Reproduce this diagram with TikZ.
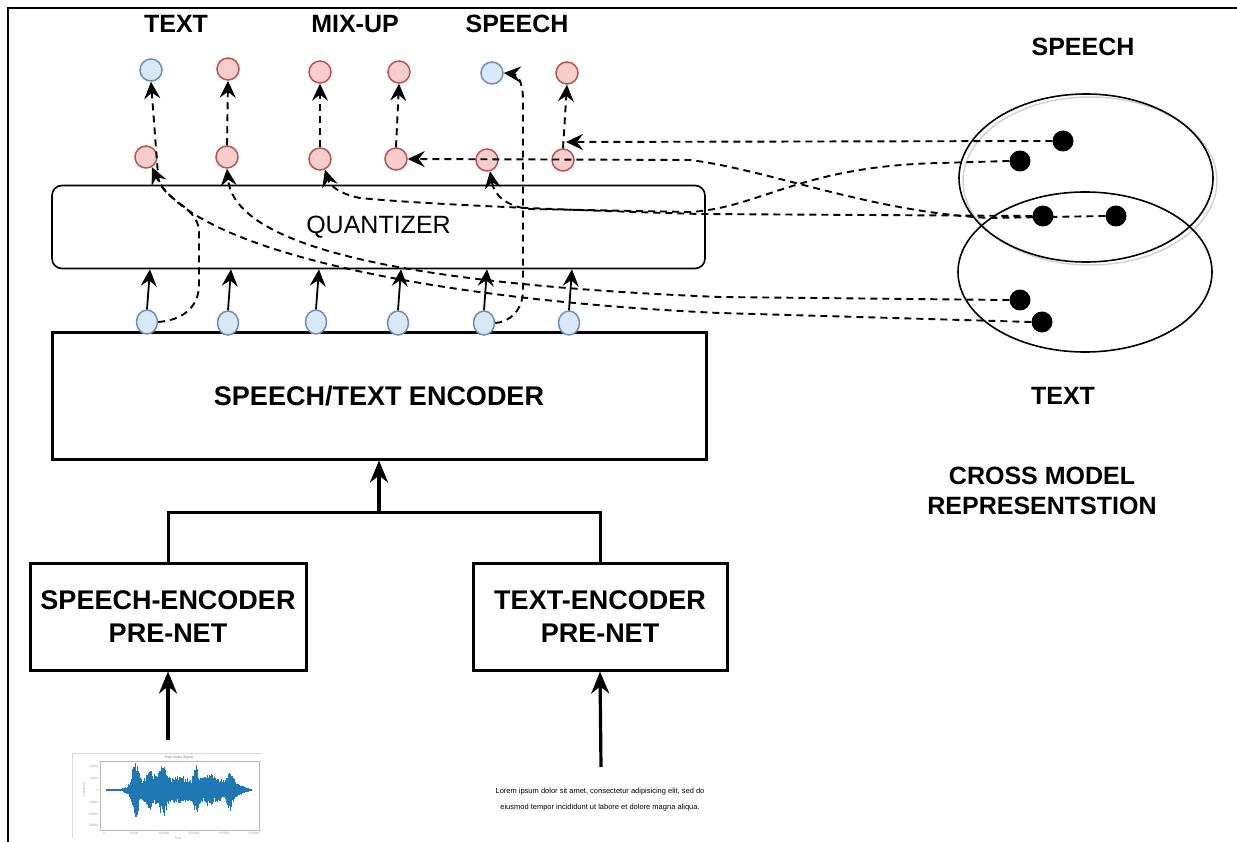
\documentclass[tikz,border=0pt]{standalone}
\usepackage{fontspec}
\setmainfont{Liberation Sans}
\usetikzlibrary{arrows.meta,shapes.geometric,calc}
\definecolor{redfill}{HTML}{F8CECC}
\definecolor{redline}{HTML}{B85450}
\definecolor{bluefill}{HTML}{DAE8FC}
\definecolor{blueline}{HTML}{6C8EBF}
\definecolor{wavecol}{RGB}{31,119,180}

\begin{document}
\begin{tikzpicture}[x=1pt,y=-1pt,
  redtok/.style={circle,draw=redline,fill=redfill,line width=1.5pt,minimum size=22pt,inner sep=0pt},
  bluetok/.style={circle,draw=blueline,fill=bluefill,line width=1.5pt,minimum size=22pt,inner sep=0pt},
  bluein/.style={ellipse,draw=blueline,fill=bluefill,line width=1.5pt,minimum width=21pt,minimum height=24pt,inner sep=0pt},
  embed/.style={circle,fill=black,minimum size=21pt,inner sep=0pt},
  dasharrow/.style={line width=1.9pt,dash pattern=on 7pt off 5pt,-{Stealth[length=17pt,width=16pt,inset=6pt]}},
  thinarrow/.style={line width=1.8pt,-{Stealth[length=17pt,width=16pt,inset=6pt]}},
  thickline/.style={line width=3pt},
  thickarrow/.style={line width=3.2pt,-{Stealth[length=22pt,width=18pt,inset=7pt]}},
  heading/.style={font=\fontsize{25}{30}\selectfont\bfseries,inner sep=0pt,align=center},
  boxlabel/.style={font=\fontsize{27}{33}\selectfont\bfseries,align=center},
  blockbox/.style={draw,line width=3pt,inner sep=0pt},
]
\useasboundingbox (0,0) rectangle (1237,842);

% outer frame
\draw[line width=2pt] (1237,8) -- (8,8) -- (8,842);

% column headings
\node[heading] (hText)   at (176,24) {TEXT};
\node[heading] (hMix)    at (355,24) {MIX-UP};
\node[heading] (hSpeech) at (517,24) {SPEECH};

% quantizer and encoder blocks
\node[draw,line width=1.6pt,rounded corners=10pt,minimum width=653pt,minimum height=83pt,inner sep=0pt,
      font=\fontsize{25}{30}\selectfont] (q) at (378.5,227) {QUANTIZER};
\node[blockbox,minimum width=654pt,minimum height=126pt,font=\fontsize{27}{33}\selectfont\bfseries] (enc) at (379,396) {SPEECH/TEXT ENCODER};
\node[blockbox,minimum width=276pt,minimum height=107pt,boxlabel] (sp) at (168,616.5) {SPEECH-ENCODER\\PRE-NET};
\node[blockbox,minimum width=254pt,minimum height=107pt,boxlabel] (tx) at (600,616.5) {TEXT-ENCODER\\PRE-NET};

% cross-modal space
\draw[gray!35,line width=1.5pt] (1090,181) ellipse (127 and 84);
\draw[line width=1.6pt] (1086,178) ellipse (127 and 84);
\draw[line width=1.6pt] (1085,272) ellipse (127 and 80);
\node[heading] (lSpeech) at (1083,47) {SPEECH};
\node[heading] (lText)   at (1063,396) {TEXT};
\node[heading] (lCross) at (1042,491) {CROSS MODEL\\REPRESENTSTION};

% token rows
\node[bluetok] (t1) at (151,70) {};
\node[redtok]  (t2) at (228,69) {};
\node[redtok]  (t3) at (320,72) {};
\node[redtok]  (t4) at (399,72) {};
\node[bluetok] (t5) at (492,73) {};
\node[redtok]  (t6) at (567,73) {};

\node[redtok] (m1) at (146,157) {};
\node[redtok] (m2) at (227,157) {};
\node[redtok] (m3) at (320,159) {};
\node[redtok] (m4) at (396,159) {};
\node[redtok] (m5) at (487,160) {};
\node[redtok] (m6) at (563,160) {};

\node[bluein] (b1) at (147,322) {};
\node[bluein] (b2) at (228,323) {};
\node[bluein] (b3) at (316,322) {};
\node[bluein] (b4) at (398,323) {};
\node[bluein] (b5) at (484,323) {};
\node[bluein] (b6) at (569,323) {};

\coordinate (e6) at (566,142);

% quantized tokens to outputs
\draw[dasharrow] (m2.north) -- (t2.south);
\draw[dasharrow] (m3.north) -- (t3.south);
\draw[dasharrow] (m4.north) -- (t4.south);
\draw[dasharrow] (m6.north) -- (t6.south);

% encoder outputs into the quantizer
\foreach \i in {1,...,6}
  \draw[thinarrow] (b\i.north) -- ([xshift=3pt]b\i.north |- q.south);

% embedding points
\node[embed] (d1) at (1063,141) {};
\node[embed] (d2) at (1020,161) {};
\node[embed] (d3) at (1043,216) {};
\node[embed] (d4) at (1116,216) {};
\node[embed] (d5) at (1020,300) {};
\node[embed] (d6) at (1042,322) {};

% links from the shared space to the quantized tokens
\draw[dasharrow] (d1.west) -- (e6);
\draw[dasharrow] (d4.west) -- (990,218) .. controls (870,212) and (770,170) .. (690,160) -- (m4.east);
\draw[dasharrow] (d2.west) -- (940,163) .. controls (800,166) and (760,208) .. (690,212)
   -- (530,209) .. controls (508,207) and (494,196) .. (m5.-75);
\draw[dasharrow] (d3.west) -- (700,214) .. controls (560,210) and (420,204) .. (360,198)
   .. controls (340,194) and (330,186) .. (m3.-65);
\draw[dasharrow] (d5.west) -- (720,297) .. controls (420,285) and (235,250) .. (m2.south);
\draw[dasharrow] (d6.west) -- (720,313) .. controls (430,300) and (190,250) .. (m1.-60);

% skip paths bypassing the quantizer
\draw[dasharrow] (b1.east) .. controls (185,320) and (199,305) .. (199,285) -- (199,232)
   .. controls (199,205) and (159,200) .. (158,175) -- (t1.south);
\draw[dasharrow] (b5.east) .. controls (510,322) and (523,310) .. (523,290) -- (523,100)
   .. controls (523,80) and (516,74) .. (t5.east);

% pre-nets into the encoder
\coordinate (j) at (379,512);
\draw[thickline] (sp.north) |- (j) -| (tx.north);
\draw[thickarrow] (j) -- (enc.south);

% raw audio input
\coordinate (wtop) at (168,740);
\draw[thickarrow] (wtop) -- (sp.south);
\begin{scope}
  \draw[gray!30,line width=0.6pt] (72,838) -- (72,753) -- (262,753);
  \draw[gray!55,line width=0.5pt] (100,761) rectangle (259,830);
  \node[font=\fontsize{3.5}{4}\selectfont,text=gray] (wtitle) at (179,757.5) {Raw Audio Signal};
  \foreach \v/\yy in {20000/766,10000/778,0/790,-10000/802,-20000/814,-30000/825}
    \node[font=\fontsize{3.2}{4}\selectfont,text=gray!70,anchor=east,inner sep=0.5pt] at (99,\yy) {\v};
  \foreach \v/\xx in {0/104,50000/134,100000/164,150000/194,200000/224,250000/254}
    \node[font=\fontsize{3.2}{4}\selectfont,text=gray!70,inner sep=0.5pt] at (\xx,833.5) {\v};
  \node[font=\fontsize{3.2}{4}\selectfont,text=gray!70,rotate=90] at (84,790) {Amplitude};
  \node[font=\fontsize{3.2}{4}\selectfont,text=gray!70] at (178,838) {Time};
  \pgfmathsetseed{11}
  \foreach \k in {0,...,290} {
    \pgfmathsetmacro\xx{106+\k*0.5}
    \pgfmathsetmacro\uu{((\xx-185)/57)*((\xx-185)/57)}
    \pgfmathsetmacro\env{0.8
      + 10*exp(max(-9,-(\uu*\uu*\uu*\uu)))
      + 22*exp(max(-9,-((\xx-135)/4)^2))
      + 10*exp(max(-9,-((\xx-150)/5)^2))
      + 17*exp(max(-9,-((\xx-163)/4.5)^2))
      + 4*exp(max(-9,-((\xx-180)/8)^2))
      + 14*exp(max(-9,-((\xx-196)/3)^2))
      + 6*exp(max(-9,-((\xx-210)/6)^2))
      + 12*exp(max(-9,-((\xx-230)/3.5)^2))}
    \pgfmathsetmacro\amp{min(29,\env*(0.55+0.45*rnd))}
    \pgfmathsetmacro\ampb{min(32,\env*(0.55+0.45*rnd))}
    \draw[wavecol,line width=0.6pt] (\xx,790-\amp) -- (\xx,790+\ampb);
  }
\end{scope}

% text input
\node[font=\fontsize{7.5}{16}\selectfont,align=center] (lorem) at (600,800)
  {Lorem ipsum dolor sit amet, consectetur adipisicing elit, sed do\\eiusmod tempor incididunt ut labore et dolore magna aliqua.};
\coordinate (ltop) at (601,767);
\draw[thickarrow] (ltop) -- (tx.south);
\end{tikzpicture}
\end{document}
